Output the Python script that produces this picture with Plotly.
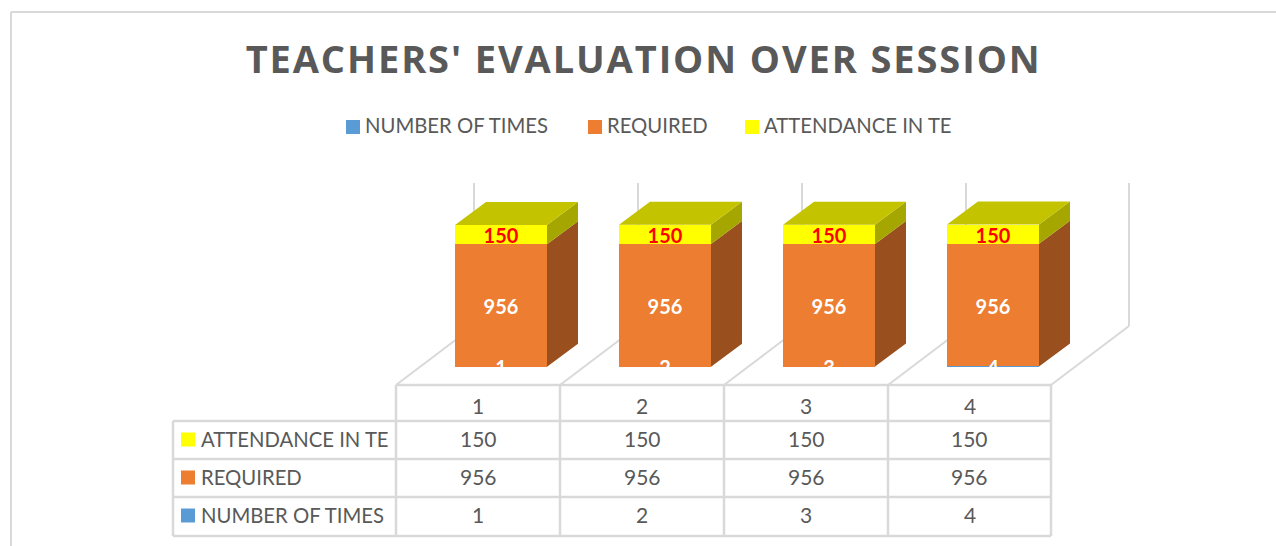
import plotly.graph_objects as go

# ---- data ----
categories = [1, 2, 3, 4]
number_of_times = [1, 2, 3, 4]
required = [956, 956, 956, 956]
attendance = [150, 150, 150, 150]
title_text = "TEACHERS' EVALUATION OVER SESSION"
name_times = "NUMBER OF TIMES"
name_required = "REQUIRED"
name_attendance = "ATTENDANCE IN TE"

# ---- styling ----
W, H = 1276, 546
BLUE, ORANGE, YELLOW = "#5B9BD5", "#ED7D31", "#FFFF00"
BLUE_SIDE, ORANGE_SIDE, YELLOW_SIDE = "#3D6A94", "#99501E", "#A6A600"
YELLOW_TOP = "#C3C300"
GRID = "#D9D9D9"
TEXT = "#595959"
FONT = "Lato"

# pixel <-> axis scale of the plot
PX_X = 164.0          # pixels per category
X0_PX = 501.0         # pixel of category 1
PX_Y = 142.0 / 1107   # pixels per value unit
Y0_PX = 367.0         # pixel of value 0
BAR_W = 92.0 / PX_X
DX = 31.0 / PX_X      # 3D depth in axis units
DY = 23.0 / PX_Y
LABEL_SHIFT = 3.5 / PX_Y  # text baseline compensation for bar labels

x_range = [1 - X0_PX / PX_X, 1 + (W - X0_PX) / PX_X]
y_range = [-(H - Y0_PX) / PX_Y, Y0_PX / PX_Y]

fig = go.Figure()

series = [
    (name_times, number_of_times, BLUE, BLUE_SIDE),
    (name_required, required, ORANGE, ORANGE_SIDE),
    (name_attendance, attendance, YELLOW, YELLOW_SIDE),
]

# front faces: stacked bars
for name, vals, col, _ in series:
    fig.add_trace(go.Bar(x=categories, y=vals, name=name, width=BAR_W,
                         marker=dict(color=col, line=dict(width=0)),
                         showlegend=False, hoverinfo="skip"))

# side faces, derived from the stacked values
bases = [0] * len(categories)
for name, vals, col, side in series:
    xs, ys = [], []
    for i, c in enumerate(categories):
        r = c + BAR_W / 2
        b, t = bases[i], bases[i] + vals[i]
        xs += [r, r + DX, r + DX, r, r, None]
        ys += [b, b + DY, t + DY, t, b, None]
        bases[i] = t
    fig.add_trace(go.Scatter(x=xs, y=ys, mode="lines", fill="toself", fillcolor=side,
                             line=dict(width=0, color=side), showlegend=False,
                             hoverinfo="skip"))

# top faces
xs, ys = [], []
for i, c in enumerate(categories):
    l, r, t = c - BAR_W / 2, c + BAR_W / 2, bases[i]
    xs += [l, r, r + DX, l + DX, l, None]
    ys += [t, t, t + DY, t + DY, t, None]
fig.add_trace(go.Scatter(x=xs, y=ys, mode="lines", fill="toself", fillcolor=YELLOW_TOP,
                         line=dict(width=0, color=YELLOW_TOP), showlegend=False,
                         hoverinfo="skip"))

# value labels on the bars
lbl = dict(family=FONT, size=20, weight="bold")
fig.add_trace(go.Scatter(x=categories, y=[v / 2 - LABEL_SHIFT for v in number_of_times],
                         mode="text", text=[str(v) for v in number_of_times],
                         textposition="middle center",
                         textfont=dict(color="#FFFFFF", **lbl),
                         showlegend=False, hoverinfo="skip"))
fig.add_trace(go.Scatter(x=categories,
                         y=[n + v / 2 - LABEL_SHIFT for n, v in zip(number_of_times, required)],
                         mode="text", text=[str(v) for v in required],
                         textposition="middle center",
                         textfont=dict(color="#FFFFFF", **lbl),
                         showlegend=False, hoverinfo="skip"))
fig.add_trace(go.Scatter(x=categories,
                         y=[n + r + v / 2 - LABEL_SHIFT for n, r, v in zip(number_of_times, required, attendance)],
                         mode="text", text=[str(v) for v in attendance],
                         textposition="middle center",
                         textfont=dict(color="#FF0000", **lbl),
                         showlegend=False, hoverinfo="skip"))


# ---- helpers in pixel space for frame, table and legend ----
def px(x):
    return x / W


def py(y):
    return 1 - y / H


shapes, annos = [], []


def line(x0, y0, x1, y1, w=2):
    shapes.append(dict(type="line", xref="paper", yref="paper", layer="below",
                       x0=px(x0), y0=py(y0), x1=px(x1), y1=py(y1),
                       line=dict(color=GRID, width=w)))


def swatch(x, y, col):
    shapes.append(dict(type="rect", xref="paper", yref="paper", layer="above",
                       x0=px(x), y0=py(y), x1=px(x + 14), y1=py(y + 14),
                       fillcolor=col, line=dict(width=0)))


def text(x, y, s, anchor="center", size=20.3, weight="normal"):
    annos.append(dict(xref="paper", yref="paper", x=px(x), y=py(y), text=s,
                      showarrow=False, xanchor=anchor, yanchor="middle",
                      font=dict(family=FONT, size=size, color=TEXT, weight=weight)))


# outer chart frame
line(11, 12, W, 12)
line(11, 12, 11, H)

# 3D walls and floor
col_x = [396, 560, 724, 888, 1051]
for x in col_x:
    line(x, 385, x + 78, 326)
    line(x + 78, 183, x + 78, 326)

# data table
rows_y = [421, 459, 497, 536]
for x in col_x:
    line(x, 385, x, 536, 2.5)
line(173, 421, 173, 536, 2.5)
line(396, 385, 1051, 385, 2.5)
for y in rows_y:
    line(173, y, 1051, y, 2.5)

col_c = [478, 642, 806, 969.5]
for c, cat in zip(col_c, categories):
    text(c, 405.5, str(cat), size=21)
table_rows = [(name_attendance, attendance, YELLOW, 438.5),
              (name_required, required, ORANGE, 476.5),
              (name_times, number_of_times, BLUE, 514.5)]
for name, vals, col, y in table_rows:
    swatch(181, y - 6, col)
    text(199, y, name, anchor="left")
    for c, v in zip(col_c, vals):
        text(c, y, str(v), size=21)

# legend
for x, name, col in [(346, name_times, BLUE), (588, name_required, ORANGE), (745, name_attendance, YELLOW)]:
    swatch(x, 120, col)
    text(x + 17, 125.5, name, anchor="left")

# title
annos.append(dict(xref="paper", yref="paper", x=px(643), y=py(58), text=title_text,
                  showarrow=False, xanchor="center", yanchor="middle",
                  font=dict(family="Open Sans", size=38, color=TEXT, weight="bold")))

fig.update_layout(
    width=W, height=H, autosize=False,
    margin=dict(l=0, r=0, t=0, b=0),
    barmode="stack",
    paper_bgcolor="white", plot_bgcolor="rgba(0,0,0,0)",
    xaxis=dict(range=x_range, visible=False, fixedrange=True),
    yaxis=dict(range=y_range, visible=False, fixedrange=True),
    shapes=shapes, annotations=annos, showlegend=False,
)

post = """
document.body.style.margin = '0';
document.body.style.overflow = 'hidden';
document.querySelectorAll('text.annotation-text').forEach(function (t) {
  if (t.textContent.indexOf('EVALUATION') >= 0) { t.style.letterSpacing = '1.9px'; }
});
"""
fig.write_html("out.html", config=dict(displayModeBar=False), post_script=post)
